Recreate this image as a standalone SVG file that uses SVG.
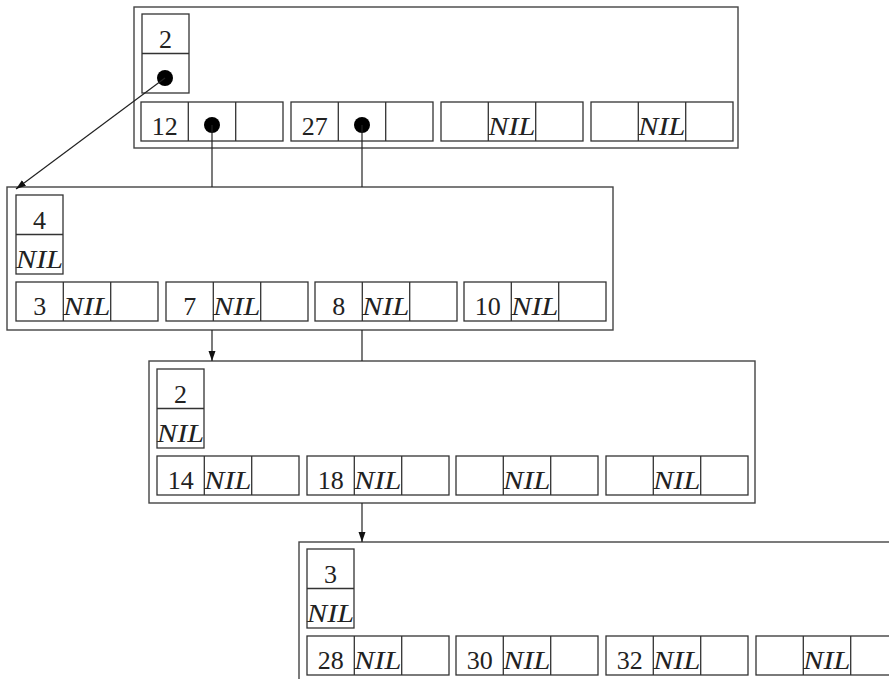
<svg xmlns="http://www.w3.org/2000/svg" xmlns:xlink="http://www.w3.org/1999/xlink" width="889" height="679" viewBox="0 0 889 679">
<style>
.box{fill:none;stroke:#333;stroke-width:1.3}
.outer{fill:none;stroke:#444;stroke-width:1.4}
.num{font-family:"Liberation Serif","DejaVu Serif",serif;font-size:26px;fill:#222;text-anchor:middle}
.nil{font-family:"Liberation Serif","DejaVu Serif",serif;font-size:26px;font-style:italic;fill:#222}
.con{fill:none;stroke:#222;stroke-width:1.2}
.dot{fill:#000}
</style>
<defs>
<g id="kg"><rect class="box" x="0" y="0" width="142" height="39"/><line class="box" x1="47.3" y1="0" x2="47.3" y2="39"/><line class="box" x1="94.7" y1="0" x2="94.7" y2="39"/></g>
<g id="hd"><rect class="box" x="0" y="0" width="47" height="79"/><line class="box" x1="0" y1="39.5" x2="47" y2="39.5"/></g>
<marker id="ah" markerUnits="userSpaceOnUse" markerWidth="10" markerHeight="8" refX="10" refY="3.5" orient="auto"><path d="M0,0 L10,3.5 L0,7 z" fill="#111"/></marker>
</defs>
<g id="node1">
<rect class="outer" x="134" y="7" width="604" height="141"/>
<use xlink:href="#hd" x="142" y="14"/>
<text class="num" x="165.5" y="48">2</text>
<circle class="dot" cx="165" cy="78" r="8"/>
<use xlink:href="#kg" x="141" y="102"/><use xlink:href="#kg" x="291" y="102"/><use xlink:href="#kg" x="441" y="102"/><use xlink:href="#kg" x="591" y="102"/>
<text class="num" x="164.7" y="135">12</text><circle class="dot" cx="212" cy="125" r="8"/>
<text class="num" x="314.7" y="135">27</text><circle class="dot" cx="362" cy="125" r="8"/>
<text class="nil" x="488.3" y="135" textLength="47" lengthAdjust="spacingAndGlyphs">NIL</text>
<text class="nil" x="638.3" y="135" textLength="47" lengthAdjust="spacingAndGlyphs">NIL</text>
</g>
<g id="node2">
<rect class="outer" x="7" y="187" width="606" height="143"/>
<use xlink:href="#hd" x="16" y="195"/>
<text class="num" x="39.5" y="229">4</text>
<text class="nil" x="16" y="268" textLength="47" lengthAdjust="spacingAndGlyphs">NIL</text>
<use xlink:href="#kg" x="16" y="282"/><use xlink:href="#kg" x="166" y="282"/><use xlink:href="#kg" x="315" y="282"/><use xlink:href="#kg" x="464" y="282"/>
<text class="num" x="39.7" y="315">3</text><text class="nil" x="63.3" y="315" textLength="47" lengthAdjust="spacingAndGlyphs">NIL</text>
<text class="num" x="189.7" y="315">7</text><text class="nil" x="213.3" y="315" textLength="47" lengthAdjust="spacingAndGlyphs">NIL</text>
<text class="num" x="338.7" y="315">8</text><text class="nil" x="362.3" y="315" textLength="47" lengthAdjust="spacingAndGlyphs">NIL</text>
<text class="num" x="487.7" y="315">10</text><text class="nil" x="511.3" y="315" textLength="47" lengthAdjust="spacingAndGlyphs">NIL</text>
</g>
<g id="node3">
<rect class="outer" x="149" y="361" width="606" height="142"/>
<use xlink:href="#hd" x="157" y="369"/>
<text class="num" x="180.5" y="403">2</text>
<text class="nil" x="157" y="442" textLength="47" lengthAdjust="spacingAndGlyphs">NIL</text>
<use xlink:href="#kg" x="157" y="456"/><use xlink:href="#kg" x="307" y="456"/><use xlink:href="#kg" x="456" y="456"/><use xlink:href="#kg" x="606" y="456"/>
<text class="num" x="180.7" y="489">14</text><text class="nil" x="204.3" y="489" textLength="47" lengthAdjust="spacingAndGlyphs">NIL</text>
<text class="num" x="330.7" y="489">18</text><text class="nil" x="354.3" y="489" textLength="47" lengthAdjust="spacingAndGlyphs">NIL</text>
<text class="nil" x="503.3" y="489" textLength="47" lengthAdjust="spacingAndGlyphs">NIL</text>
<text class="nil" x="653.3" y="489" textLength="47" lengthAdjust="spacingAndGlyphs">NIL</text>
</g>
<g id="node4">
<rect class="outer" x="299" y="542" width="606" height="142"/>
<use xlink:href="#hd" x="307" y="549"/>
<text class="num" x="330.5" y="583">3</text>
<text class="nil" x="307" y="622" textLength="47" lengthAdjust="spacingAndGlyphs">NIL</text>
<use xlink:href="#kg" x="307" y="636"/><use xlink:href="#kg" x="456" y="636"/><use xlink:href="#kg" x="606" y="636"/><use xlink:href="#kg" x="756" y="636"/>
<text class="num" x="330.7" y="669">28</text><text class="nil" x="354.3" y="669" textLength="47" lengthAdjust="spacingAndGlyphs">NIL</text>
<text class="num" x="479.7" y="669">30</text><text class="nil" x="503.3" y="669" textLength="47" lengthAdjust="spacingAndGlyphs">NIL</text>
<text class="num" x="629.7" y="669">32</text><text class="nil" x="653.3" y="669" textLength="47" lengthAdjust="spacingAndGlyphs">NIL</text>
<text class="nil" x="803.3" y="669" textLength="47" lengthAdjust="spacingAndGlyphs">NIL</text>
</g>
<g id="connectors">
<line class="con" x1="165" y1="78" x2="16" y2="189" marker-end="url(#ah)"/>
<line class="con" x1="212" y1="125" x2="212" y2="187"/>
<line class="con" x1="362" y1="125" x2="362" y2="187"/>
<line class="con" x1="212" y1="330" x2="212" y2="361" marker-end="url(#ah)"/>
<line class="con" x1="362" y1="330" x2="362" y2="361"/>
<line class="con" x1="362" y1="503" x2="362" y2="542" marker-end="url(#ah)"/>
</g>
</svg>
